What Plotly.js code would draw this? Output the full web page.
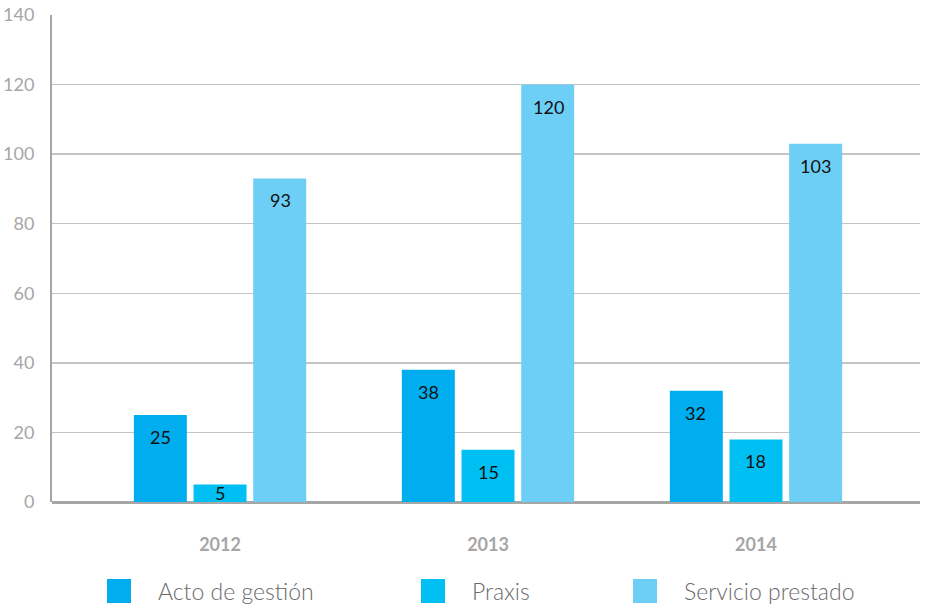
<!DOCTYPE html>
<html><head><meta charset="utf-8">
<script src="https://cdn.plot.ly/plotly-3.0.1.min.js"></script>
<style>html,body{margin:0;padding:0;background:#fff}#chart{width:934px;height:609px}</style>
</head><body><div id="chart"></div>
<script>
const years = ['2012', '2013', '2014'];
const seriesNames = ['Acto de gestión', 'Praxis', 'Servicio prestado'];
const actoValues = [25, 38, 32];
const praxisValues = [5, 15, 18];
const servicioValues = [93, 120, 103];
const colors = ['#00aeef', '#00bff3', '#6dcff6'];
const yTicks = [0, 20, 40, 60, 80, 100, 120, 140];

const allValues = [actoValues, praxisValues, servicioValues];
const W = 934, H = 609;
const margin = {l: 52, r: 14, t: 15, b: 107};
const plotW = W - margin.l - margin.r, plotH = H - margin.t - margin.b;
const pxPerUnit = plotH / 140;

const traces = allValues.map((vals, i) => ({
  type: 'bar', x: years, y: vals, name: seriesNames[i],
  marker: {color: colors[i]}, showlegend: false, hoverinfo: 'x+y+name'
}));

const annotations = [];
const slot = 60;
allValues.forEach((vals, i) => {
  vals.forEach((v, j) => {
    annotations.push({
      x: j, y: v, xref: 'x', yref: 'y', text: String(v), showarrow: false,
      xshift: (i - 1) * slot, yshift: -Math.min(22, v * pxPerUnit / 2),
      yanchor: 'middle', xanchor: 'center',
      font: {family: 'Lato, sans-serif', size: 18, color: '#111'}
    });
  });
});

// custom legend
const shapes = [];
const legendSquareX = [107, 421, 633];
const legendTextX = [156, 470, 682];
const legendY = 591;
const py2paper = py => (margin.t + plotH - py) / plotH;
const px2paper = px => (px - margin.l) / plotW;
seriesNames.forEach((n, i) => {
  shapes.push({type: 'rect', xref: 'paper', yref: 'paper',
    x0: px2paper(legendSquareX[i]), x1: px2paper(legendSquareX[i] + 24),
    y0: py2paper(legendY + 12), y1: py2paper(legendY - 12),
    fillcolor: colors[i], line: {width: 0}});
  annotations.push({xref: 'paper', yref: 'paper', x: px2paper(legendTextX[i]), y: py2paper(legendY),
    xanchor: 'left', yanchor: 'middle', showarrow: false, text: n,
    font: {family: 'Lato, sans-serif', size: 23, color: '#6a6a6a', weight: 300}});
});

const layout = {
  width: W, height: H, margin: margin,
  paper_bgcolor: '#fff', plot_bgcolor: '#fff',
  barmode: 'group', bargap: 0.332, bargroupgap: 0.112,
  xaxis: {type: 'category', range: [-0.627, 2.612], showgrid: false, zeroline: false,
    showline: false, ticks: '', ticklabelstandoff: 30,
    tickfont: {family: 'Lato, sans-serif', size: 18, color: '#a6a6a6', weight: 'bold'}},
  yaxis: {range: [0, 140], tickvals: yTicks, showgrid: true, gridcolor: '#c4c4c4', gridwidth: 1.5,
    zeroline: true, zerolinecolor: '#a6a6a6', zerolinewidth: 3,
    showline: true, linecolor: '#a6a6a6', linewidth: 2, ticks: '', ticklabelstandoff: 12,
    tickfont: {family: 'Lato, sans-serif', size: 18, color: '#a6a6a6'}},
  showlegend: false, annotations: annotations, shapes: shapes,
  font: {family: 'Lato, sans-serif'}
};
Plotly.newPlot('chart', traces, layout, {displayModeBar: false, staticPlot: true});
</script></body></html>
